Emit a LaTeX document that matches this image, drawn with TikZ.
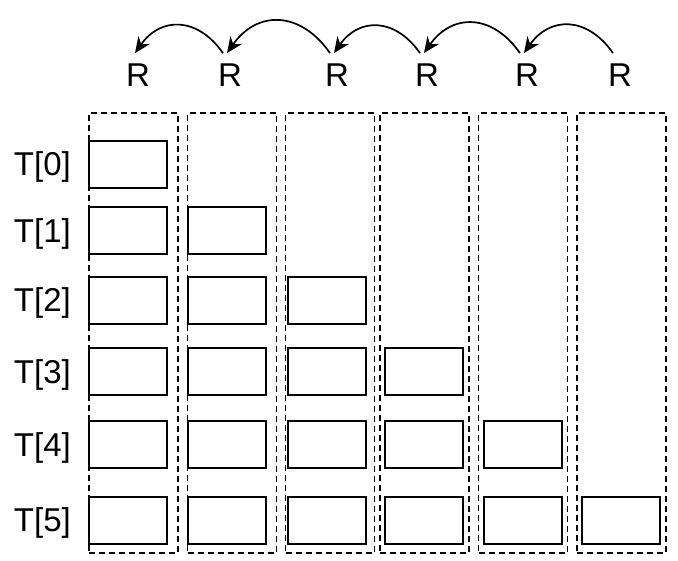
\documentclass[tikz,border=0pt]{standalone}
\usepackage{fontspec}
\setmainfont{Liberation Sans}
\usetikzlibrary{arrows.meta}

\begin{document}
\begin{tikzpicture}[x=1pt,y=1pt,
  every node/.style={font=\fontsize{33}{38}\selectfont},
  lane/.style={draw,dash pattern=on 6pt off 4pt,line width=1.7pt,minimum width=89pt,minimum height=440pt,inner sep=0pt},
  cell/.style={draw,line width=2pt,minimum width=78pt,minimum height=47pt,inner sep=0pt},
  hop/.style={-{Stealth[length=16pt,width=14pt]},line width=1.7pt,out=125,in=55,looseness=1.3}]
  \useasboundingbox (0,0) rectangle (678,561);
  \foreach \j/\cx in {0/133.5,1/232,2/330,3/424.5,4/523,5/621.5}
    \node[lane] (lane\j) at (\cx,228) {};
  \foreach \i/\cy in {0/396.5,1/330,2/260.5,3/189,4/116,5/40.5}{
    \node[anchor=base east,inner sep=0pt] (t\i) at (71,\cy-11.5) {T[\i]};
    \foreach \j/\bx in {0/128,1/227,2/326.5,3/423.5,4/523,5/621}{
      \ifnum\j>\i\else
        \node[cell] (c\i\j) at (\bx,\cy) {};
      \fi
    }
  }
  \foreach \j/\rx in {0/138,1/230,2/337,3/427,4/527,5/620}
    \node[anchor=base,inner sep=0pt] (r\j) at (\rx,474) {R};
  \foreach \j in {1,...,5}{
    \pgfmathtruncatemacro\k{\j-1}
    \draw[hop] ([xshift=-7pt,yshift=11pt]r\j.north) to ([xshift=-3pt,yshift=11pt]r\k.north);
  }
\end{tikzpicture}
\end{document}
